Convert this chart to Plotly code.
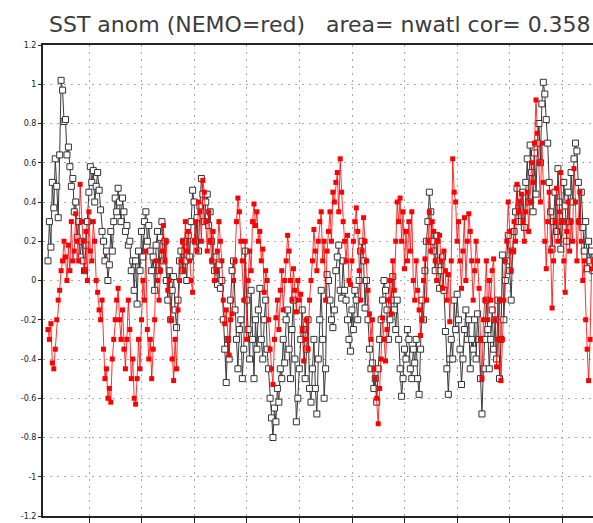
import plotly.graph_objects as go

# Observed SST anomaly (black, open squares), 12 values per year
obs = [
    0.1, 0.3, 0.17, 0.5, 0.37, 0.62, 0.48, 0.32, 0.64, 1.02, 0.97, 0.81,
    0.82, 0.64, 0.68, 0.58, 0.48, 0.52, 0.35, 0.4, 0.22, 0.3, 0.12, 0.2,
    0.1, 0.05, 0.18, 0.3, 0.45, 0.58, 0.5, 0.56, 0.4, 0.48, 0.55, 0.46,
    0.36, 0.25, 0.2, 0.1, 0.15, 0.0, 0.08, 0.25, 0.15, 0.3, 0.42, 0.35,
    0.47, 0.4, 0.3, 0.42, 0.35, 0.25, 0.28, 0.18, 0.2, 0.05, 0.1, -0.05,
    0.1, -0.12, 0.15, 0.05, 0.25, 0.12, 0.3, 0.35, 0.2, 0.28, 0.15, 0.05,
    0.12, -0.05, 0.18, 0.25, 0.05, 0.22, 0.3, 0.1, 0.2, 0.0, -0.1, 0.05,
    -0.2, -0.05, 0.02, -0.15, -0.24, -0.1, 0.1, 0.15, 0.05, 0.2, 0.1, 0.0,
    0.23, 0.12, 0.3, 0.46, 0.4, 0.2, 0.32, 0.15, 0.38, 0.52, 0.44, 0.3,
    0.4, 0.44, 0.28, 0.35, 0.2, 0.1, 0.05, 0.12, -0.02, 0.08, -0.04, 0.0,
    -0.2, -0.35, -0.52, -0.3, -0.4, -0.1, 0.05, 0.1, -0.15, -0.3, -0.45, -0.25,
    -0.2, -0.5, -0.35, 0.15, -0.1, -0.25, -0.4, -0.05, -0.3, -0.5, -0.2, -0.35,
    -0.15, -0.04, -0.3, -0.4, -0.2, -0.1, -0.35, -0.45, -0.6, -0.7, -0.8, -0.65,
    -0.72, -0.55, -0.62, -0.45, -0.5, -0.3, -0.42, -0.2, -0.15, -0.35, -0.5, -0.25,
    -0.1, -0.4, -0.72, -0.6, -0.45, -0.3, -0.15, -0.25, -0.5, -0.35, -0.2, -0.55,
    -0.62, -0.45, -0.3, -0.55, -0.68, -0.4, -0.2, -0.05, -0.3, -0.6, -0.45, 0.03,
    0.0, -0.1, -0.2, -0.24, -0.15, 0.05, 0.12, 0.18, -0.05, -0.09, 0.1, -0.05,
    -0.1, -0.2, -0.3, -0.36, -0.15, -0.25, -0.05, -0.1, -0.2, 0.0, 0.15, 0.2,
    0.1, -0.14, 0.0, -0.2, -0.35, -0.45, -0.42, -0.55, -0.5, -0.62, -0.45, -0.3,
    -0.2, -0.1, 0.0, -0.05, -0.15, -0.3, -0.2, -0.1, 0.02, -0.15, -0.25, -0.1,
    -0.3, -0.45, -0.59, -0.5, -0.35, -0.4, -0.25, -0.3, -0.45, -0.5, -0.35, -0.42,
    -0.3, -0.5, -0.58, -0.35, -0.1, -0.2, 0.05, 0.2, 0.3, 0.45, 0.35, 0.2,
    0.15, 0.05, 0.23, 0.1, -0.04, 0.05, 0.12, -0.05, -0.26, -0.45, -0.58, -0.4,
    -0.3, -0.4, -0.1, -0.25, -0.07, -0.2, -0.35, -0.53, -0.4, -0.25, -0.15, -0.3,
    -0.2, -0.45, -0.3, -0.35, -0.2, -0.4, -0.17, -0.3, -0.5, -0.68, -0.45, -0.3,
    -0.1, -0.25, -0.45, -0.3, -0.15, -0.35, -0.2, -0.4, -0.1, -0.5, -0.3, 0.13,
    -0.2, 0.0, 0.1, 0.23, 0.05, -0.1, 0.15, 0.25, 0.35, 0.47, 0.3, 0.4,
    0.3, 0.45, 0.27, 0.5, 0.62, 0.4, 0.69, 0.55, 0.35, 0.65, 0.44, 0.7,
    0.8, 0.6, 0.9, 1.01, 0.95, 0.82, 0.7, 0.5, 0.35, 0.16, 0.3, 0.45,
    0.25, 0.57, 0.4, 0.16, 0.3, 0.5, 0.38, 0.2, 0.45, 0.3, 0.55, 0.4,
    0.62, 0.7, 0.66, 0.5, 0.3, 0.45, 0.27, 0.15, 0.3, 0.06, 0.2, 0.1,
    0.15, 0.05,
]

# NEMO model SST anomaly (red, filled squares)
nemo = [
    -0.25, -0.3, -0.22, -0.42, -0.45, -0.35, -0.2, -0.1, -0.05, 0.05, 0.1, 0.2,
    0.12, 0.0, 0.18, 0.05, 0.3, 0.1, 0.15, 0.34, 0.2, 0.1, 0.49, 0.3,
    0.2, 0.05, 0.25, 0.0, 0.35, 0.15, 0.1, 0.3, 0.2, 0.0, -0.06, -0.15,
    -0.2, -0.1, -0.35, -0.5, -0.45, -0.6, -0.55, -0.62, -0.4, -0.3, -0.2, -0.1,
    -0.04, -0.2, -0.3, -0.15, -0.35, -0.45, -0.3, -0.1, -0.25, -0.5, -0.4, -0.6,
    -0.63, -0.5, -0.3, -0.45, -0.2, 0.0, -0.1, 0.15, -0.25, -0.4, -0.3, -0.5,
    -0.35, -0.2, 0.1, 0.0, -0.1, 0.05, 0.15, 0.28, 0.1, 0.2, -0.05, 0.0,
    -0.2, -0.4, -0.51, -0.3, -0.45, -0.15, 0.0, 0.1, 0.2, 0.05, 0.3, 0.15,
    0.25, 0.1, 0.0, -0.06, 0.2, 0.3, 0.15, 0.4, 0.35, 0.2, 0.51, 0.45,
    0.3, 0.15, 0.35, 0.2, 0.1, 0.25, 0.0, 0.05, 0.15, 0.3, 0.2, 0.1,
    -0.1, -0.22, -0.15, -0.3, -0.38, -0.2, -0.17, 0.0, 0.1, 0.3, 0.42, 0.35,
    0.2, 0.1, -0.1, 0.2, -0.3, 0.0, 0.15, 0.05, 0.3, 0.39, 0.28, 0.35,
    0.2, 0.25, 0.1, 0.16, -0.06, 0.05, 0.0, -0.2, -0.35, -0.45, -0.53, -0.3,
    -0.19, -0.1, -0.25, -0.05, 0.05, -0.15, 0.0, 0.1, 0.23, 0.15, 0.0, -0.1,
    0.06, -0.05, -0.16, 0.0, -0.1, -0.07, -0.25, -0.41, -0.3, -0.2, -0.35, -0.1,
    0.0, 0.1, 0.26, 0.15, 0.05, 0.2, 0.3, 0.35, 0.1, 0.2, -0.1, 0.15,
    0.25, 0.35, 0.2, 0.45, 0.4, 0.5, 0.55, 0.35, 0.62, 0.45, 0.3, 0.2,
    0.1, 0.23, 0.0, -0.02, 0.1, 0.2, 0.3, 0.37, 0.25, 0.05, -0.1, 0.15,
    0.32, 0.2, 0.1, -0.05, -0.17, -0.3, -0.2, -0.45, -0.5, -0.6, -0.73, -0.55,
    -0.4, -0.19, -0.3, -0.41, -0.25, -0.1, 0.0, -0.17, 0.1, -0.05, 0.2, 0.4,
    0.3, 0.42, 0.2, 0.35, 0.06, 0.25, 0.1, 0.3, 0.15, 0.35, 0.0, -0.1,
    0.1, -0.05, -0.15, -0.28, -0.2, 0.0, 0.11, -0.1, 0.2, 0.35, 0.15, 0.3,
    0.25, 0.1, 0.0, 0.2, 0.23, 0.1, -0.04, 0.15, 0.05, -0.1, 0.03, -0.21,
    0.1, 0.62, 0.45, 0.4, 0.2, 0.3, 0.1, -0.04, 0.15, 0.32, 0.0, 0.2,
    0.34, 0.25, 0.1, -0.1, 0.05, 0.2, 0.1, -0.04, -0.3, -0.5, -0.2, -0.1,
    0.1, -0.2, 0.0, -0.1, 0.05, 0.11, -0.2, -0.44, -0.3, -0.1, -0.51, -0.3,
    -0.1, 0.1, 0.2, 0.4, 0.25, 0.05, 0.15, 0.3, 0.2, 0.49, 0.35, 0.4,
    0.44, 0.3, 0.2, 0.35, 0.45, 0.25, 0.4, 0.6, 0.5, 0.7, 0.92, 0.75,
    0.6, 0.4, 0.7, 0.5, 0.2, 0.06, 0.3, 0.45, 0.15, -0.14, 0.1, 0.3,
    0.47, 0.2, 0.35, 0.55, 0.3, 0.1, -0.06, 0.25, 0.4, 0.15, 0.3, 0.2,
    0.57, 0.4, 0.1, 0.3, 0.45, 0.2, 0.0, 0.1, -0.2, -0.35, -0.51, -0.3,
    0.06, 0.1,
]

months = list(range(len(obs)))
y_ticks = [-1.2, -1.0, -0.8, -0.6, -0.4, -0.2, 0.0, 0.2, 0.4, 0.6, 0.8, 1.0, 1.2]
y_labels = ["-1.2", "-1", "-0.8", "-0.6", "-0.4", "-0.2", "0", "0.2", "0.4", "0.6", "0.8", "1", "1.2"]
title_text = "SST anom (NEMO=red)   area= nwatl cor= 0.358"

fig = go.Figure()
fig.add_trace(go.Scatter(
    x=months, y=obs, mode="lines+markers",
    line=dict(color="#3a3a3a", width=1),
    marker=dict(symbol="square", size=6, color="white", line=dict(color="#333333", width=1)),
    showlegend=False,
))
fig.add_trace(go.Scatter(
    x=months, y=nemo, mode="lines+markers",
    line=dict(color="rgba(255,0,0,0.8)", width=1),
    marker=dict(symbol="square", size=5, color="#ff0000", line=dict(width=0)),
    showlegend=False,
))

fig.add_annotation(
    text=title_text, xref="paper", yref="paper", x=0.0, y=1.0,
    xanchor="left", yanchor="bottom", yshift=6, xshift=4, showarrow=False,
    font=dict(family="DejaVu Sans", size=22, color="#3c3c3c"),
)

fig.update_layout(
    width=593, height=523,
    margin=dict(l=43, r=0, t=45, b=7),
    paper_bgcolor="white", plot_bgcolor="white",
    xaxis=dict(
        range=[-3.4, 373], tick0=28.1, dtick=36, showticklabels=False,
        showgrid=True, gridcolor="#a8a8a8", gridwidth=1, griddash="2px,5px",
        showline=True, linecolor="#222222", linewidth=2, mirror=True,
        ticks="outside", ticklen=5, tickcolor="#222222", tickwidth=1,
        zeroline=False,
    ),
    yaxis=dict(
        range=[-1.2, 1.2], tickvals=y_ticks, ticktext=y_labels,
        showgrid=True, gridcolor="#a8a8a8", gridwidth=1, griddash="2px,5px",
        showline=True, linecolor="#222222", linewidth=2,
        ticks="outside", ticklen=3, tickcolor="#222222", tickwidth=1,
        tickfont=dict(family="DejaVu Sans", size=8, color="#222222"),
        zeroline=False,
    ),
)

fig.write_html(
    "out.html",
    config={"displayModeBar": False},
    post_script="document.body.style.margin='0';document.body.style.overflow='hidden';",
)
